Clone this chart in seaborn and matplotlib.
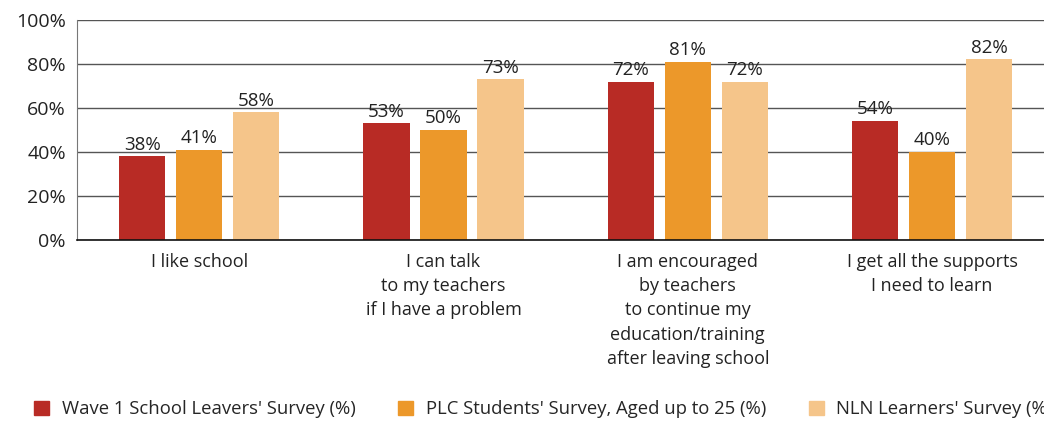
import pandas as pd
import matplotlib
matplotlib.use('Agg')
import matplotlib.pyplot as plt
import seaborn as sns

# data
statements = ['I like school',
              'I can talk\nto my teachers\nif I have a problem',
              'I am encouraged\nby teachers\nto continue my\neducation/training\nafter leaving school',
              'I get all the supports\nI need to learn']
surveys = ["Wave 1 School Leavers' Survey (%)",
           "PLC Students' Survey, Aged up to 25 (%)",
           "NLN Learners' Survey (%)"]
wave1 = [38, 53, 72, 54]
plc = [41, 50, 81, 40]
nln = [58, 73, 72, 82]
colors = ['#B82B25', '#EC982A', '#F5C58A']

df = pd.DataFrame({
    'Statement': statements * 3,
    'Survey': [surveys[0]] * 4 + [surveys[1]] * 4 + [surveys[2]] * 4,
    'Value': wave1 + plc + nln,
})

sns.set_style('white')
plt.rcParams['font.family'] = ['Open Sans', 'DejaVu Sans']

fig = plt.figure(figsize=(10.44, 4.22), dpi=100)
# axes runs a little past the right edge, like the source
ax = fig.add_axes([0.0738, 0.431, 0.936, 0.522])

sns.barplot(data=df, x='Statement', y='Value', hue='Survey', palette=colors,
            width=0.70, gap=0.19, saturation=1, linewidth=0, ax=ax, legend=False)

for c in ax.containers:
    ax.bar_label(c, fmt='%.0f%%', padding=2, fontsize=13.5, color='#222222')

ax.set_ylim(0, 100)
ax.set_xlim(-0.5, 3.5)
ax.set_yticks(range(0, 101, 20))
ax.set_yticklabels([f'{v}%' for v in range(0, 101, 20)], fontsize=14, color='#222222')
ax.tick_params(axis='x', labelsize=13, colors='#222222', length=0, pad=9)
ax.tick_params(axis='y', length=0, pad=8)
for t in ax.get_xticklabels():
    t.set_linespacing(1.45)
ax.yaxis.grid(True, color='#555555', linewidth=1)
ax.set_axisbelow(True)
ax.set_xlabel('')
ax.set_ylabel('')
for s in ['top', 'right']:
    ax.spines[s].set_visible(False)
ax.spines['left'].set_color('#777777')
ax.spines['bottom'].set_color('#111111')
ax.spines['bottom'].set_linewidth(1.2)

handles = [plt.Rectangle((0, 0), 1, 1, color=c) for c in colors]
fig.legend(handles, surveys, loc='lower left', bbox_to_anchor=(0.017, -0.03),
           ncol=3, frameon=False, fontsize=13.3, handlelength=0.8, handleheight=0.8,
           columnspacing=2.3, handletextpad=0.7)

fig.savefig('out.png', dpi=100)
